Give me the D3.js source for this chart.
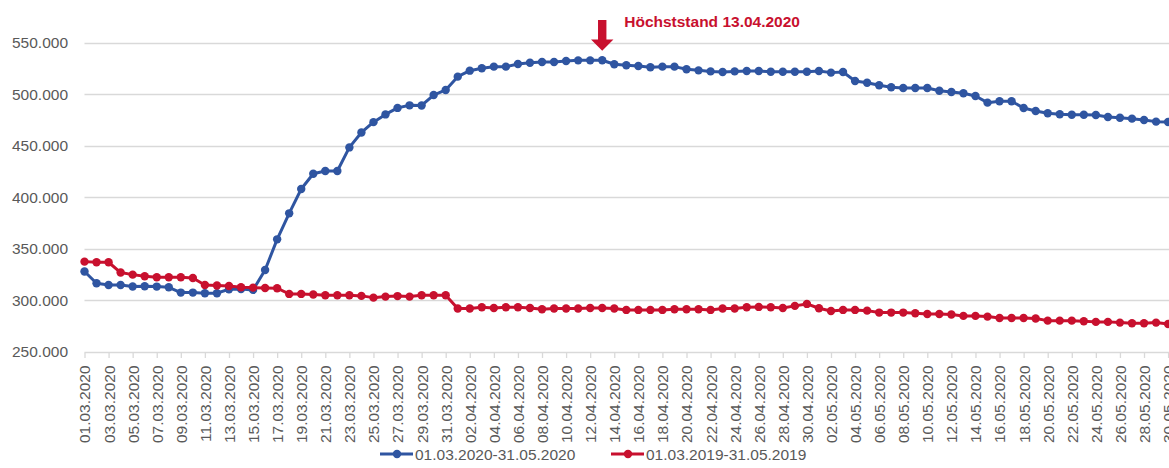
<!DOCTYPE html>
<html>
<head>
<meta charset="utf-8">
<script src="https://cdn.jsdelivr.net/npm/d3@7"></script>
<style>
html,body{margin:0;padding:0;background:#fff;}
svg{display:block;}
</style>
</head>
<body>
<svg id="chart" width="1169" height="468"></svg>
<script>
// ---- data ----
const seriesNames = ["01.03.2020-31.05.2020", "01.03.2019-31.05.2019"];
const seriesColors = ["#2F55A1", "#C8102E"];
const yTicks = [250000, 300000, 350000, 400000, 450000, 500000, 550000];
const annotationText = "Höchststand 13.04.2020";
const peakIndex = 43;

const values2020 = [
  328000, 316600, 315000, 315000, 313500, 313800, 313400, 312700, 307600, 307600,
  307000, 307000, 310800, 311000, 310200, 329500, 359200, 384400, 408000, 422800,
  425400, 425400, 448300, 462800, 472800, 480300, 486600, 489100, 489000, 499100,
  504000, 516900, 522700, 525000, 526600, 526600, 529200, 530400, 531100, 531100,
  532100, 532700, 532700, 532800, 528900, 527900, 527200, 526000, 526600, 526600,
  524000, 523000, 522000, 521400, 522000, 522400, 522400, 521700, 521700, 521700,
  521700, 522400, 520800, 521400, 512700, 511000, 508500, 506600, 505900, 505900,
  505900, 503300, 502000, 500800, 498200, 491700, 493000, 493000, 486500, 483600,
  481400, 480400, 480000, 480000, 479700, 477800, 477100, 476200, 474900, 473300,
  473000, 472500
];
const values2019 = [
  337600, 337000, 337000, 327000, 325000, 323400, 322500, 322500, 322500, 321800,
  315000, 314400, 314000, 312800, 312400, 312100, 311800, 306300, 306300, 305700,
  305000, 305000, 305000, 304400, 302700, 303700, 304200, 303700, 305000, 305000,
  305000, 292100, 292100, 293400, 292700, 293400, 293400, 292700, 291400, 292100,
  292100, 292100, 292700, 292700, 292100, 290800, 290800, 290800, 290800, 291400,
  291400, 291400, 290800, 292100, 292100, 293400, 293700, 293400, 292700, 294700,
  296600, 292400, 289800, 290800, 290800, 290100, 288200, 288200, 288200, 287600,
  286900, 286900, 286300, 285000, 285000, 284300, 283000, 283000, 283000, 282400,
  280400, 280400, 280400, 279800, 279200, 279200, 278500, 277900, 277900, 278500,
  277200, 277000
];
const categories = d3.timeDay.range(new Date(2020, 2, 1), new Date(2020, 5, 1))
  .map(d3.timeFormat("%d.%m.%Y"));

// ---- layout ----
const svg = d3.select("#chart");
const x0 = 84.5, dayW = 12.04;
const x = d3.scaleLinear().domain([0, 90]).range([x0, x0 + 90 * dayW]);
const y = d3.scaleLinear().domain([250000, 550000]).range([352, 42.5]);
const de = d3.formatLocale({decimal: ",", thousands: ".", grouping: [3], currency: ["", "€"]});
const fmt = de.format(",.0f");
const FONT = "'Liberation Sans', Arial, sans-serif";
const gray = "#595959";

// gridlines
svg.append("g").selectAll("line").data(yTicks.slice(1)).join("line")
  .attr("x1", x0).attr("x2", 1169)
  .attr("y1", d => Math.round(y(d)) + 0.5).attr("y2", d => Math.round(y(d)) + 0.5)
  .attr("stroke", "#D9D9D9").attr("stroke-width", 1.3);

// y axis labels
const yAxis = d3.axisLeft(y).tickValues(yTicks).tickFormat(fmt).tickSize(0).tickPadding(0);
const gy = svg.append("g").attr("transform", `translate(68,0)`).call(yAxis);
gy.select(".domain").remove();
gy.selectAll("text").attr("font-family", FONT).attr("font-size", "15.5px").attr("fill", gray);

// x axis
const xTickIdx = d3.range(0, 92, 2);
const xAxis = d3.axisBottom(x).tickValues(xTickIdx).tickFormat(i => categories[i])
  .tickSize(5.5).tickSizeOuter(0).tickPadding(0);
const gx = svg.append("g").attr("transform", `translate(0,${Math.round(y(250000)) + 0.5})`).call(xAxis);
gx.select(".domain").attr("stroke", "#D9D9D9").attr("stroke-width", 1.3)
  .attr("d", `M${x0},0H1169`);
gx.selectAll(".tick line").attr("stroke", "#D9D9D9").attr("stroke-width", 1.3);
gx.selectAll("text")
  .attr("font-family", FONT).attr("font-size", "15.5px").attr("fill", gray)
  .attr("transform", "rotate(-90)")
  .attr("text-anchor", "end")
  .attr("x", -13).attr("y", 0).attr("dy", "0.35em");

// series
const series = [values2020, values2019];
const line = d3.line().x((d, i) => x(i)).y(d => y(d));
series.forEach((vals, s) => {
  const g = svg.append("g");
  g.append("path").datum(vals).attr("d", line)
    .attr("fill", "none").attr("stroke", seriesColors[s]).attr("stroke-width", 3)
    .attr("stroke-linejoin", "round");
  g.selectAll("circle").data(vals).join("circle")
    .attr("cx", (d, i) => x(i)).attr("cy", d => y(d)).attr("r", 4.2)
    .attr("fill", seriesColors[s]);
});

// annotation arrow
const ax = x(peakIndex);
svg.append("path")
  .attr("d", `M${ax - 4.2},20 H${ax + 4.2} V39.5 H${ax + 11.2} L${ax},50.7 L${ax - 11.2},39.5 H${ax - 4.2} Z`)
  .attr("fill", seriesColors[1]);
svg.append("text").attr("x", ax + 22).attr("y", 26.5)
  .attr("font-family", FONT).attr("font-size", "15.5px").attr("font-weight", "bold")
  .attr("fill", seriesColors[1]).text(annotationText);

// legend
const legendX = [380, 611];
const lg = svg.append("g");
seriesNames.forEach((name, s) => {
  const lx = legendX[s];
  lg.append("line").attr("x1", lx).attr("x2", lx + 33).attr("y1", 454).attr("y2", 454)
    .attr("stroke", seriesColors[s]).attr("stroke-width", 3);
  lg.append("circle").attr("cx", lx + 17).attr("cy", 454).attr("r", 4.2).attr("fill", seriesColors[s]);
  lg.append("text").attr("x", lx + 35).attr("y", 460)
    .attr("font-family", FONT).attr("font-size", "15.5px").attr("fill", gray).text(name);
});
</script>
</body>
</html>
